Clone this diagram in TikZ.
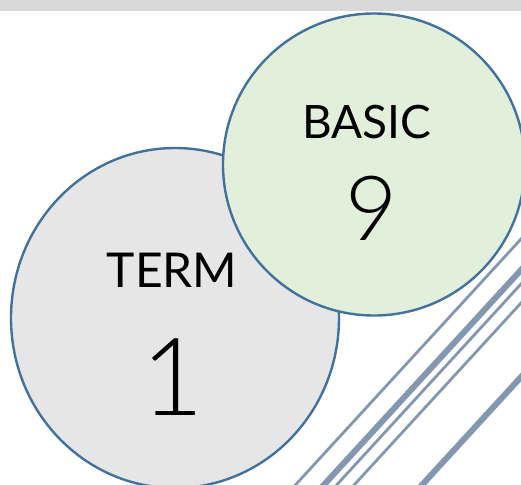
\documentclass[tikz,border=0pt]{standalone}
\usepackage{fontspec}
\setmainfont{Lato}
\newfontfamily\numfont{Lato Light}
\usetikzlibrary{positioning}
\usetikzlibrary{shapes.geometric}

\definecolor{ringblue}{RGB}{65,113,156}
\definecolor{termgray}{RGB}{231,230,230}
\definecolor{basicgreen}{RGB}{226,239,218}
\definecolor{stripe}{RGB}{132,151,176}
\definecolor{topbar}{RGB}{217,217,217}

\begin{document}
\begin{tikzpicture}[x=0.5pt,y=-0.5pt,
	disc/.style={draw=ringblue,line width=1.2pt,inner sep=0pt,outer sep=0pt},
	word/.style={anchor=base,inner sep=0pt,font=\fontsize{24}{28}\selectfont},
	digit/.style={anchor=base,inner sep=0pt},
	thinstripe/.style={draw=stripe,line width=1.4pt},
	thickstripe/.style={draw=stripe,line width=3pt}]
	\useasboundingbox (0,0) rectangle (521,484);
	\fill[topbar] (0,0) rectangle (521,11);

	\begin{scope}
		\clip (0,0) rectangle (521,484);
		\draw[thinstripe] (281.6,500) -- (540,218.3);
		\draw[thickstripe] (310,500) -- (540,249.3);
		\draw[thinstripe] (322.8,500) -- (540,263.3);
		\draw[thinstripe] (340.3,500) -- (540,282.3);
		\draw[thickstripe] (408.2,500) -- (540,356.3);

		\node[disc,ellipse,fill=termgray,minimum width=164pt,minimum height=170pt] (termcircle) at (175,318) {};
		\node[disc,circle,fill=basicgreen,minimum size=151pt] (basiccircle) at (374,164.5) {};
	\end{scope}

	\node[word] (term) at (172,287) {TERM};
	\node[digit,font=\numfont\fontsize{54}{60}\selectfont] (termnum) at (173,415) {1};
	\node[word,font=\fontsize{23}{27}\selectfont] (basic) at (366.5,138) {BASIC};
	\node[digit,font=\numfont\fontsize{45}{50}\selectfont] (basicnum) at (372,240) {9};
\end{tikzpicture}
\end{document}
